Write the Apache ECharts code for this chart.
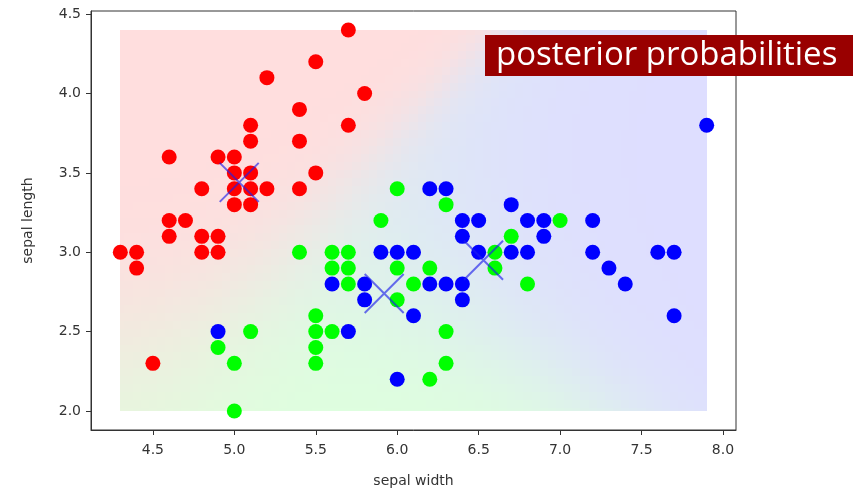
<!DOCTYPE html>
<html>
<head>
<meta charset="utf-8">
<script src="https://cdn.jsdelivr.net/npm/echarts@6/dist/echarts.min.js"></script>
<style>
  html, body { margin: 0; padding: 0; background: #ffffff; overflow: hidden; }
  #chart { width: 853px; height: 489px; }
</style>
</head>
<body>
<div id="chart"></div>
<script>
// Iris samples: [sepal width axis value, sepal length axis value]
const setosa = [
  [5.7,4.4],[5.5,4.2],[5.2,4.1],[5.8,4.0],[5.4,3.9],[5.1,3.8],[5.7,3.8],[5.1,3.7],
  [5.4,3.7],[4.6,3.6],[4.9,3.6],[5.0,3.6],[5.0,3.5],[5.1,3.5],[5.5,3.5],[4.8,3.4],
  [5.0,3.4],[5.1,3.4],[5.2,3.4],[5.4,3.4],[5.0,3.3],[5.1,3.3],[4.6,3.2],[4.7,3.2],
  [4.6,3.1],[4.8,3.1],[4.9,3.1],[4.3,3.0],[4.4,3.0],[4.8,3.0],[4.9,3.0],[4.4,2.9],
  [4.5,2.3]
];
const versicolor = [
  [6.0,3.4],[5.9,3.2],[6.3,3.3],[7.0,3.2],[6.7,3.1],[5.4,3.0],[5.6,3.0],[5.7,3.0],
  [6.6,3.0],[5.6,2.9],[5.7,2.9],[6.0,2.9],[6.2,2.9],[6.6,2.9],[5.7,2.8],[6.1,2.8],
  [6.8,2.8],[6.0,2.7],[5.5,2.6],[5.1,2.5],[5.5,2.5],[5.6,2.5],[6.3,2.5],[4.9,2.4],
  [5.5,2.4],[5.0,2.3],[5.5,2.3],[6.3,2.3],[6.2,2.2],[5.0,2.0]
];
const virginica = [
  [7.9,3.8],[6.2,3.4],[6.3,3.4],[6.7,3.3],[6.4,3.2],[6.5,3.2],[6.8,3.2],[6.9,3.2],
  [7.2,3.2],[6.4,3.1],[6.9,3.1],[5.9,3.0],[6.0,3.0],[6.1,3.0],[6.5,3.0],[6.7,3.0],
  [6.8,3.0],[7.2,3.0],[7.6,3.0],[7.7,3.0],[7.3,2.9],[5.6,2.8],[5.8,2.8],[6.2,2.8],
  [6.3,2.8],[6.4,2.8],[7.4,2.8],[5.8,2.7],[6.4,2.7],[6.1,2.6],[7.7,2.6],[4.9,2.5],
  [5.7,2.5],[6.0,2.2]
];

// Class centres (setosa, versicolor, virginica), marked with crosses
const classMeans = [[5.03, 3.44], [5.92, 2.74], [6.53, 2.95]];
const classColors = ['#ff0000', '#00ff00', '#0000ff'];

// Tick labels
const xTicks = [4.5, 5.0, 5.5, 6.0, 6.5, 7.0, 7.5, 8.0];
const yTicks = [2.0, 2.5, 3.0, 3.5, 4.0, 4.5];

// Probability mesh extent and shading strength
const meshX = [4.3, 7.9];
const meshY = [2.0, 4.4];
const meshStep = 0.05;
const shadeAlpha = 0.13;

// Gaussian naive Bayes fitted to the three classes
function fitClass(points) {
  const n = points.length;
  const mx = points.reduce((s, p) => s + p[0], 0) / n;
  const my = points.reduce((s, p) => s + p[1], 0) / n;
  const vx = points.reduce((s, p) => s + (p[0] - mx) ** 2, 0) / n;
  const vy = points.reduce((s, p) => s + (p[1] - my) ** 2, 0) / n;
  return { mx, my, vx, vy, n };
}
const classModels = [setosa, versicolor, virginica].map(fitClass);
const totalCount = classModels.reduce((s, m) => s + m.n, 0);

function posterior(x, y) {
  const logs = classModels.map(m =>
    Math.log(m.n / totalCount)
    - 0.5 * ((x - m.mx) ** 2 / m.vx + (y - m.my) ** 2 / m.vy)
    - 0.5 * Math.log(m.vx * m.vy));
  const top = Math.max(...logs);
  const w = logs.map(l => Math.exp(l - top));
  const s = w[0] + w[1] + w[2];
  return w.map(v => v / s);
}

// Mesh cells: [x, y, r, g, b], class colours blended over white
const meshCells = [];
const nx = Math.round((meshX[1] - meshX[0]) / meshStep);
const ny = Math.round((meshY[1] - meshY[0]) / meshStep);
for (let i = 0; i <= nx; i++) {
  for (let j = 0; j <= ny; j++) {
    const x = meshX[0] + i * meshStep;
    const y = meshY[0] + j * meshStep;
    const p = posterior(x, y);
    const ch = p.map(v => Math.round(255 - 255 * shadeAlpha * (1 - v)));
    meshCells.push([x, y, ch[0], ch[1], ch[2]]);
  }
}

const chart = echarts.init(document.getElementById('chart'), null, { renderer: 'canvas' });

const axisColor = '#333';
const labelColor = '#333';
const fontFamily = 'DejaVu Sans';

function pointSeries(data, color) {
  return {
    type: 'scatter',
    data: data,
    symbolSize: 15,
    itemStyle: { color: color, opacity: 1 },
    z: 3,
    silent: true
  };
}

chart.setOption({
  animation: false,
  backgroundColor: '#ffffff',
  title: {
    text: 'posterior probabilities',
    left: 485,
    top: 35,
    padding: [3, 40, 3, 11],
    backgroundColor: '#990000',
    textStyle: {
      color: '#ffffff',
      fontSize: 33,
      fontWeight: 'normal',
      fontFamily: 'Open Sans',
      lineHeight: 35
    }
  },
  grid: {
    left: 91, top: 11, width: 645, height: 419,
    containLabel: false,
    outerBoundsMode: 'none',
    show: true, borderColor: axisColor, borderWidth: 1, backgroundColor: 'transparent'
  },
  xAxis: {
    type: 'value',
    min: 4.12, max: 8.08,
    name: 'sepal width',
    nameLocation: 'middle',
    nameGap: 44,
    nameTextStyle: { color: labelColor, fontSize: 14, fontFamily: fontFamily },
    axisLine: { show: true, lineStyle: { color: axisColor, width: 1 } },
    axisTick: { show: true, length: 5, customValues: xTicks, lineStyle: { color: axisColor } },
    axisLabel: {
      customValues: xTicks, margin: 13, color: labelColor, fontSize: 14, fontFamily: fontFamily,
      formatter: v => v.toFixed(1)
    },
    splitLine: { show: false }
  },
  yAxis: {
    type: 'value',
    min: 1.88, max: 4.52,
    name: 'sepal length',
    nameLocation: 'middle',
    nameGap: 56,
    nameTextStyle: { color: labelColor, fontSize: 14, fontFamily: fontFamily },
    axisLine: { show: true, lineStyle: { color: axisColor, width: 1 } },
    axisTick: { show: true, length: 5, customValues: yTicks, lineStyle: { color: axisColor } },
    axisLabel: {
      customValues: yTicks, margin: 10, color: labelColor, fontSize: 14, fontFamily: fontFamily,
      formatter: v => v.toFixed(1)
    },
    splitLine: { show: false }
  },
  series: [
    {
      type: 'custom',
      data: meshCells,
      silent: true,
      z: 1,
      renderItem: function (params, api) {
        const x = api.value(0), y = api.value(1);
        const h = meshStep / 2;
        const x0 = Math.max(meshX[0], x - h), x1 = Math.min(meshX[1], x + h);
        const y0 = Math.max(meshY[0], y - h), y1 = Math.min(meshY[1], y + h);
        const a = api.coord([x0, y1]);
        const b = api.coord([x1, y0]);
        const left = Math.round(a[0]), top = Math.round(a[1]);
        return {
          type: 'rect',
          shape: {
            x: left, y: top,
            width: Math.round(b[0]) - left + (x1 < meshX[1] ? 1 : 0),
            height: Math.round(b[1]) - top + (y0 > meshY[0] ? 1 : 0)
          },
          style: { fill: 'rgb(' + api.value(2) + ',' + api.value(3) + ',' + api.value(4) + ')' }
        };
      }
    },
    pointSeries(setosa, classColors[0]),
    pointSeries(versicolor, classColors[1]),
    pointSeries(virginica, classColors[2]),
    {
      type: 'scatter',
      data: classMeans,
      symbol: 'path://M0,0L10,10M10,0L0,10',
      symbolSize: 39,
      itemStyle: { color: 'none', borderColor: 'rgba(30,30,235,0.8)', borderWidth: 2 },
      z: 4,
      silent: true
    }
  ]
});
</script>
</body>
</html>
